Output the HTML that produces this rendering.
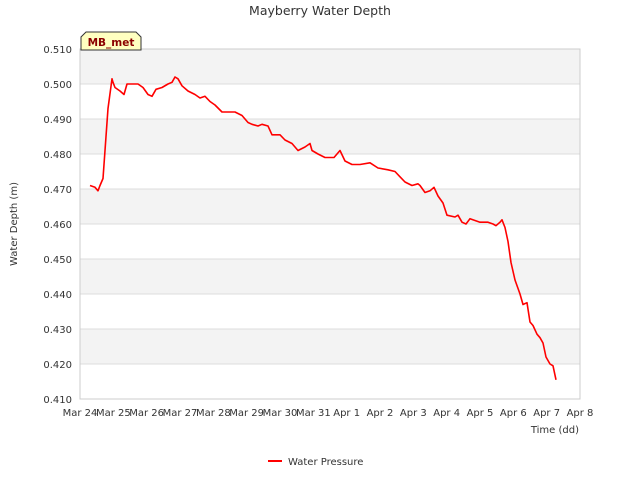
<!DOCTYPE html>
<html><head><meta charset="utf-8"><style>
body{margin:0;background:#fff;font-family:"DejaVu Sans","Liberation Sans",sans-serif;}
</style></head><body>
<svg width="640" height="480" xmlns="http://www.w3.org/2000/svg" font-family="DejaVu Sans, Liberation Sans, sans-serif">
<g id="bands"></g>
<g id="grid"></g>
<rect x="80" y="49" width="500" height="350" fill="none" stroke="#ccc"/>
<text x="320" y="15" text-anchor="middle" font-size="12.5" fill="#333">Mayberry Water Depth</text>
<g id="yt"></g>
<g id="xt"></g>
<text x="17" y="224" transform="rotate(-90 17 224)" text-anchor="middle" font-size="10" fill="#333">Water Depth (m)</text>
<text x="579" y="433" text-anchor="end" font-size="10" fill="#333">Time (dd)</text>
<path id="line" fill="none" stroke="#ff0000" stroke-width="1.6" stroke-linejoin="round"/>
<g>
<path d="M81,50 L81,37 L86,32 L136,32 L141,37 L141,50 Z" fill="#ffffc0" stroke="#333"/>
<text x="111" y="46" text-anchor="middle" font-size="10.5" font-weight="bold" fill="#8b0000">MB_met</text>
</g>
<g>
<line x1="268" y1="461" x2="282" y2="461" stroke="#ff0000" stroke-width="2"/>
<text x="288" y="465" font-size="10" fill="#333">Water Pressure</text>
</g>
</svg>
<script>
const xTickLabels=["Mar 24","Mar 25","Mar 26","Mar 27","Mar 28","Mar 29","Mar 30","Mar 31","Apr 1","Apr 2","Apr 3","Apr 4","Apr 5","Apr 6","Apr 7","Apr 8"];
const yTickValues=[0.410,0.420,0.430,0.440,0.450,0.460,0.470,0.480,0.490,0.500,0.510];
const days=[0.3,0.45,0.54,0.6,0.69,0.78,0.84,0.96,0.99,1.05,1.2,1.32,1.41,1.56,1.74,1.89,2.04,2.16,2.28,2.46,2.64,2.76,2.85,2.94,3.06,3.24,3.45,3.6,3.75,3.9,4.05,4.26,4.65,4.86,5.04,5.16,5.34,5.46,5.64,5.76,6.0,6.15,6.36,6.54,6.75,6.9,6.96,7.14,7.35,7.62,7.8,7.95,8.16,8.4,8.7,8.94,9.24,9.45,9.6,9.75,9.96,10.14,10.2,10.35,10.5,10.62,10.74,10.89,11.01,11.25,11.34,11.46,11.58,11.7,11.85,12.0,12.24,12.39,12.48,12.6,12.66,12.75,12.84,12.93,13.05,13.2,13.29,13.41,13.5,13.59,13.71,13.8,13.89,13.98,14.1,14.19,14.28];
const depth=[0.471,0.4705,0.4695,0.471,0.473,0.485,0.493,0.5015,0.5005,0.499,0.498,0.497,0.5,0.5,0.5,0.499,0.497,0.4965,0.4985,0.499,0.5,0.5005,0.502,0.5015,0.4995,0.498,0.497,0.496,0.4965,0.495,0.494,0.492,0.492,0.491,0.489,0.4885,0.488,0.4885,0.488,0.4855,0.4855,0.484,0.483,0.481,0.482,0.483,0.481,0.48,0.479,0.479,0.481,0.478,0.477,0.477,0.4775,0.476,0.4755,0.475,0.4735,0.472,0.471,0.4715,0.471,0.469,0.4695,0.4705,0.468,0.466,0.4625,0.462,0.4625,0.4605,0.46,0.4615,0.461,0.4605,0.4605,0.46,0.4595,0.4605,0.4612,0.459,0.455,0.449,0.444,0.44,0.437,0.4375,0.432,0.431,0.4285,0.4275,0.426,0.422,0.42,0.4195,0.4155];
const X0=80,X1=580,Y0=399,Y1=49,DMIN=0,DMAX=15,VMIN=0.41,VMAX=0.51;
const xs=d=>X0+(d-DMIN)/(DMAX-DMIN)*(X1-X0);
const ys=v=>Y0-(v-VMIN)/(VMAX-VMIN)*(Y0-Y1);
const NS="http://www.w3.org/2000/svg";
function mk(t,a,p){const e=document.createElementNS(NS,t);for(const k in a)e.setAttribute(k,a[k]);p.appendChild(e);return e;}
const bands=document.getElementById('bands'),grid=document.getElementById('grid'),yt=document.getElementById('yt'),xt=document.getElementById('xt');
for(let i=0;i<yTickValues.length-1;i++){
 if((yTickValues.length-2-i)%2===0){
  const r=mk('rect',{x:X0,y:ys(yTickValues[i+1]),width:X1-X0,height:ys(yTickValues[i])-ys(yTickValues[i+1]),fill:'#f3f3f3'},bands);
  
  
 }
}
yTickValues.forEach(v=>{
 const l=mk('line',{x1:X0,x2:X1,y1:ys(v),y2:ys(v),stroke:'#ddd'},grid);
 
 
 const t=mk('text',{x:X0-8,y:ys(v)+4,'text-anchor':'end','font-size':'10',fill:'#333'},yt);
 
 
 t.textContent=v.toFixed(3);
});
xTickLabels.forEach((s,i)=>{
 const t=mk('text',{x:xs(i),y:416,'text-anchor':'middle','font-size':'10',fill:'#333'},xt);
 
 
 t.textContent=s;
});
let d='';
days.forEach((dd,i)=>{d+=(i?'L':'M')+xs(dd).toFixed(1)+','+ys(depth[i]).toFixed(1);});
document.getElementById('line').setAttribute('d',d);
</script>
</body></html>
